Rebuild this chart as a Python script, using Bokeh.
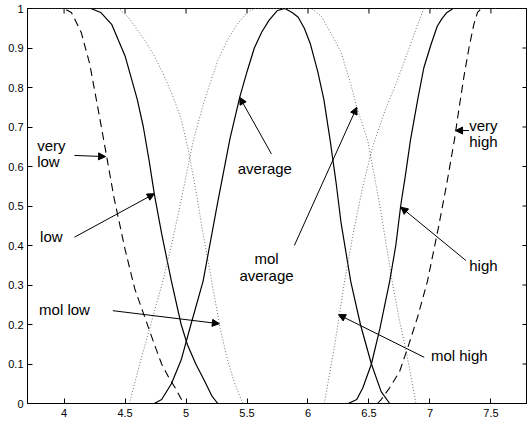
import math
from bokeh.plotting import figure
from bokeh.models import Range1d, FixedTicker, Arrow, NormalHead, Label
from bokeh.embed import file_html
from bokeh.resources import INLINE

# ---- data ----
x_ticks = [4, 4.5, 5, 5.5, 6, 6.5, 7, 7.5]
y_ticks = [0, 0.1, 0.2, 0.3, 0.4, 0.5, 0.6, 0.7, 0.8, 0.9, 1.0]

very_low_x = [3.70, 4.00, 4.06, 4.14, 4.21, 4.30, 4.41, 4.50, 4.58, 4.66, 4.74, 4.80, 4.86, 4.92, 4.98]
very_low_y = [1.00, 1.00, 0.99, 0.94, 0.86, 0.71, 0.52, 0.39, 0.29, 0.22, 0.15, 0.10, 0.065, 0.035, 0.0]

low_x = [3.70, 4.22, 4.30, 4.39, 4.50, 4.60, 4.65, 4.70, 4.74, 4.80, 4.88, 4.96, 5.01, 5.08, 5.15, 5.21, 5.26]
low_y = [1.00, 1.00, 0.99, 0.96, 0.88, 0.77, 0.70, 0.61, 0.53, 0.43, 0.31, 0.20, 0.15, 0.10, 0.058, 0.02, 0.0]

mol_low_x = [3.70, 4.45, 4.52, 4.58, 4.66, 4.74, 4.82, 4.89, 4.96, 5.02, 5.08, 5.14, 5.21, 5.28, 5.34, 5.40, 5.465]
mol_low_y = [1.00, 1.00, 0.98, 0.955, 0.92, 0.88, 0.83, 0.78, 0.72, 0.64, 0.54, 0.43, 0.31, 0.19, 0.11, 0.05, 0.0]

average_x = [4.74, 4.80, 4.88, 4.96, 5.04, 5.14, 5.26, 5.36, 5.44, 5.50, 5.56, 5.62, 5.68, 5.75, 5.81,
             5.87, 5.92, 5.97, 6.02, 6.08, 6.13, 6.18, 6.23, 6.27, 6.35, 6.43, 6.52, 6.60, 6.67]
average_y = [0.00, 0.01, 0.05, 0.11, 0.20, 0.31, 0.51, 0.67, 0.775, 0.84, 0.90, 0.94, 0.97, 0.995, 1.0,
             0.99, 0.978, 0.95, 0.91, 0.84, 0.77, 0.67, 0.56, 0.46, 0.31, 0.20, 0.10, 0.03, 0.0]

mol_average_x = [4.535, 4.62, 4.72, 4.81, 4.88, 4.95, 5.06, 5.15, 5.26, 5.34, 5.42, 5.50, 5.56,
                 6.03, 6.11, 6.19, 6.27, 6.35, 6.40, 6.49, 6.59, 6.69, 6.75, 6.80, 6.85, 6.885]
mol_average_y = [0.0, 0.10, 0.21, 0.31, 0.40, 0.50, 0.666, 0.767, 0.868, 0.92, 0.96, 0.99, 1.0,
                 1.0, 0.98, 0.936, 0.89, 0.81, 0.75, 0.666, 0.50, 0.31, 0.21, 0.14, 0.06, 0.0]

mol_high_x = [6.134, 6.18, 6.22, 6.30, 6.37, 6.45, 6.53, 6.63, 6.735, 6.83, 6.90, 6.95, 7.80]
mol_high_y = [0.0, 0.08, 0.15, 0.31, 0.43, 0.55, 0.65, 0.74, 0.82, 0.90, 0.96, 1.0, 1.0]

high_x = [6.33, 6.40, 6.45, 6.52, 6.59, 6.67, 6.72, 6.76, 6.80, 6.84, 6.90, 6.95, 7.01, 7.06, 7.10, 7.14, 7.19, 7.80]
high_y = [0.0, 0.01, 0.04, 0.10, 0.19, 0.31, 0.40, 0.50, 0.58, 0.666, 0.77, 0.85, 0.91, 0.955, 0.975, 0.99, 1.0, 1.0]

very_high_x = [6.57, 6.60, 6.67, 6.75, 6.82, 6.90, 6.98, 7.07, 7.14, 7.20, 7.24, 7.28, 7.32, 7.36, 7.39, 7.42, 7.80]
very_high_y = [0.0, 0.01, 0.04, 0.08, 0.143, 0.22, 0.31, 0.446, 0.56, 0.666, 0.75, 0.83, 0.90, 0.96, 0.99, 1.0, 1.0]

# label texts with anchor (x, y, align) and arrows (x_start, y_start, x_end, y_end)
labels = [
    ("very", 3.779, 0.653, "left"),
    ("low", 3.779, 0.613, "left"),
    ("low", 3.803, 0.423, "left"),
    ("mol low", 3.795, 0.238, "left"),
    ("average", 5.424, 0.596, "left"),
    ("mol", 5.66, 0.367, "center"),
    ("average", 5.66, 0.324, "center"),
    ("mol high", 7.008, 0.122, "left"),
    ("high", 7.322, 0.349, "left"),
    ("very", 7.322, 0.704, "left"),
    ("high", 7.322, 0.663, "left"),
]
arrows = [
    (4.085, 0.628, 4.34, 0.625),
    (4.085, 0.421, 4.74, 0.531),
    (4.40, 0.235, 5.273, 0.202),
    (5.70, 0.632, 5.44, 0.775),
    (5.888, 0.40, 6.40, 0.75),
    (6.953, 0.117, 6.25, 0.225),
    (7.295, 0.362, 6.762, 0.497),
    (7.32, 0.691, 7.21, 0.691),
]

FONT = "Liberation Sans"
X0, X1 = 3.7, 7.8
Y0, Y1 = 0.0, 1.0

p = figure(width=527, height=421, x_range=Range1d(X0, X1), y_range=Range1d(Y0, Y1),
           output_backend="svg", toolbar_location=None,
           min_border_left=27, min_border_right=0, min_border_top=8, min_border_bottom=18)
p.grid.visible = False
p.outline_line_color = "black"
p.outline_line_width = 1
p.background_fill_color = "white"
p.border_fill_color = "white"

for ax, ticks, standoff in ((p.xaxis[0], x_ticks, 5), (p.yaxis[0], y_ticks, 4)):
    ax.ticker = FixedTicker(ticks=ticks)
    ax.major_tick_in = 5
    ax.major_tick_out = 0
    ax.minor_tick_in = 0
    ax.minor_tick_out = 0
    ax.axis_line_color = "black"
    ax.major_tick_line_color = "black"
    ax.major_label_text_font = FONT
    ax.major_label_text_font_size = "11px"
    ax.major_label_text_color = "black"
    ax.major_label_standoff = standoff
p.yaxis[0].major_label_overrides = {0: "0", 1.0: "1"}

# mirrored inward tick marks on the top and right edges (half of each dash is clipped by the frame)
p.scatter(x=x_ticks, y=[Y1] * len(x_ticks), marker="dash", size=10, angle=math.pi / 2,
          line_color="black", line_width=1)
p.scatter(x=[X1] * len(y_ticks), y=y_ticks, marker="dash", size=10,
          line_color="black", line_width=1)

p.line(very_low_x, very_low_y, line_color="black", line_width=1.1, line_dash="8 5")
p.line(low_x, low_y, line_color="black", line_width=1.2)
p.line(mol_low_x, mol_low_y, line_color="#707070", line_width=1, line_dash="1 2")
p.line(average_x, average_y, line_color="black", line_width=1.2)
p.line(mol_average_x, mol_average_y, line_color="#707070", line_width=1, line_dash="1 2")
p.line(mol_high_x, mol_high_y, line_color="#707070", line_width=1, line_dash="1 2")
p.line(high_x, high_y, line_color="black", line_width=1.2)
p.line(very_high_x, very_high_y, line_color="black", line_width=1.1, line_dash="8 5")

for t, x, y, al in labels:
    p.add_layout(Label(x=x, y=y, text=t, text_align=al, text_baseline="middle",
                       text_font=FONT, text_font_size="15px", text_color="black"))

for xs, ys, xe, ye in arrows:
    p.add_layout(Arrow(x_start=xs, y_start=ys, x_end=xe, y_end=ye, line_width=1, line_color="black",
                       end=NormalHead(size=7, fill_color="black", line_color="black")))

open("out.html", "w").write(file_html(p, INLINE))
